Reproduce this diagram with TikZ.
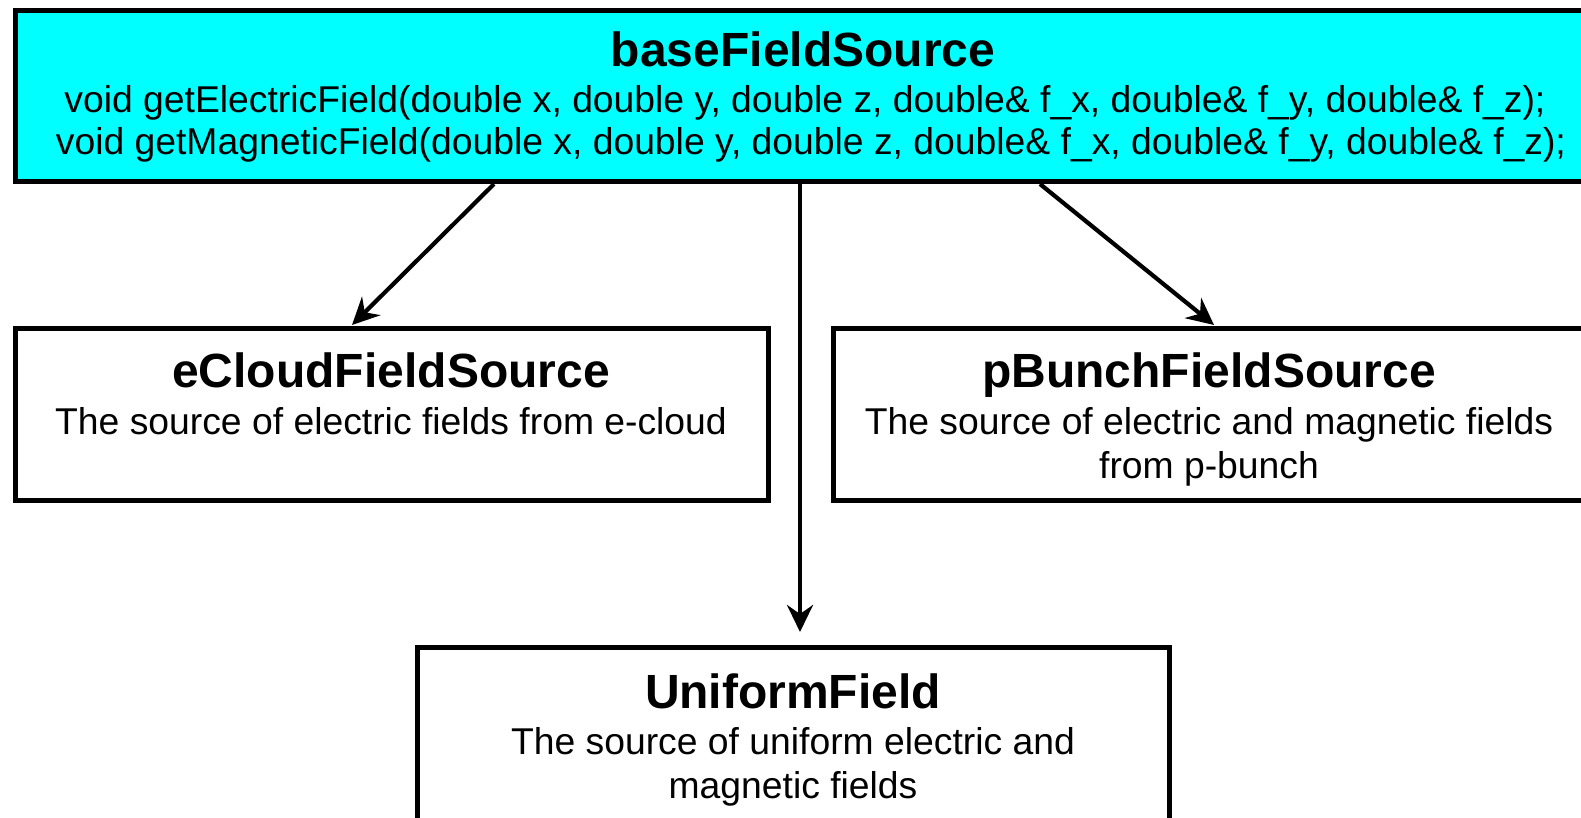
\documentclass[tikz,border=0pt]{standalone}
\usepackage{fontspec}
\setmainfont{Liberation Sans}
\usetikzlibrary{arrows.meta}
\definecolor{boxcyan}{RGB}{0,255,255}
\tikzset{
  boxframe/.style={draw=black, line width=5pt, inner sep=0pt, anchor=north west},
  titletext/.style={anchor=base, inner sep=0pt, font=\fontsize{48}{56}\selectfont\bfseries},
  bodytext/.style={anchor=base, inner sep=0pt, font=\fontsize{37.3}{44}\selectfont},
  arr/.style={line width=4.2pt, -{Stealth[length=27pt, width=26pt, inset=9pt]}}
}
\begin{document}
\begin{tikzpicture}[x=1pt, y=-1pt]
\useasboundingbox (0,0) rectangle (1581,817);
\fill[white] (0,0) rectangle (1581,817);
\clip (0,0) rectangle (1581,817);
% boxes
\node[boxframe, fill=boxcyan, minimum width=1590pt, minimum height=171.5pt] (base) at (12.5,7.5) {};
\node[boxframe, minimum width=753pt, minimum height=172pt] (ecloud) at (13,325.5) {};
\node[boxframe, minimum width=760pt, minimum height=172pt] (pbunch) at (831,325.5) {};
\node[boxframe, minimum width=752pt, minimum height=200pt] (uniform) at (414.5,644.5) {};
% texts
\node[titletext] (baseT) at (803,66) {baseFieldSource};
\node[bodytext] (baseL1) at (805,112) {void getElectricField(double x, double y, double z, double\& f\_x, double\& f\_y, double\& f\_z);};
\node[bodytext] (baseL2) at (811,154) {void getMagneticField(double x, double y, double z, double\& f\_x, double\& f\_y, double\& f\_z);};
\node[titletext] (ecloudT) at (391,387) {eCloudFieldSource};
\node[bodytext] (ecloudL1) at (391,434) {The source of electric fields from e-cloud};
\node[titletext] (pbunchT) at (1209,387) {pBunchFieldSource};
\node[bodytext] (pbunchL1) at (1209,434) {The source of electric and magnetic fields};
\node[bodytext] (pbunchL2) at (1209,478) {from p-bunch};
\node[titletext] (uniformT) at (793,708) {UniformField};
\node[bodytext] (uniformL1) at (793,754) {The source of uniform electric and};
\node[bodytext] (uniformL2) at (793,798) {magnetic fields};
% connector end points
\coordinate (s1) at (494,184);
\coordinate (t1) at (352,325);
\coordinate (s2) at (800,184);
\coordinate (t2) at (800,632);
\coordinate (s3) at (1040,184);
\coordinate (t3) at (1214,325);
\draw[arr] (s1) -- (t1);
\draw[arr] (s2) -- (t2);
\draw[arr] (s3) -- (t3);
\end{tikzpicture}
\end{document}
